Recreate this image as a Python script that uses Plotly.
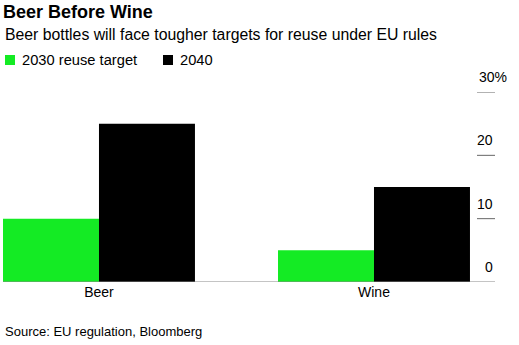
import plotly.graph_objects as go

# Reuse targets under the EU packaging rules (% of bottles)
categories = ["Beer", "Wine"]
target_2030 = [10, 5]
target_2040 = [25, 15]
series_names = ["2030 reuse target", "2040"]
series_colors = ["#14eb24", "#000000"]
y_ticks = [0, 10, 20, 30]
y_tick_labels = ["0", "10", "20", "30%"]

W, H = 519, 345
ML, MR, MT, MB = 3, 24, 92, 63
PW = W - ML - MR
PH = H - MT - MB
FONT = "Liberation Sans, Arial, sans-serif"


def px_x(px):
    return (px - ML) / PW


def px_y(py):
    return (H - MB - py) / PH


fig = go.Figure()
for name, vals, color in zip(series_names, [target_2030, target_2040], series_colors):
    fig.add_trace(go.Bar(x=categories, y=vals, name=name, marker_color=color,
                         marker_line_width=0, showlegend=False))

shapes = []
annotations = []

# right-hand value ticks: short rule with the label sitting above it
for v, lab in zip(y_ticks, y_tick_labels):
    if v != 0:
        shapes.append(dict(type="line", xref="paper", yref="y", x0=px_x(477), x1=1,
                           y0=v, y1=v, line=dict(color="#666666", width=1)))
    if lab.endswith("%"):
        ax, anchor = px_x(477), "left"
    else:
        ax, anchor = 1, "right"
    annotations.append(dict(xref="paper", yref="y", x=ax, y=v, text=lab,
                            xanchor=anchor, yanchor="bottom", yshift=5, showarrow=False,
                            font=dict(family=FONT, size=14, color="#000000")))

# baseline
shapes.append(dict(type="line", xref="paper", yref="y", x0=0, x1=1, y0=0, y1=0,
                   line=dict(color="#888888", width=1)))

# legend swatches and labels
for name, color, sx in zip(series_names, series_colors, [5, 163]):
    shapes.append(dict(type="rect", xref="paper", yref="paper",
                       x0=px_x(sx), x1=px_x(sx + 10), y0=px_y(65), y1=px_y(55),
                       fillcolor=color, line_width=0))
    annotations.append(dict(xref="paper", yref="paper", x=px_x(sx + 15), y=px_y(60),
                            text=name, xanchor="left", yanchor="middle", showarrow=False,
                            font=dict(family=FONT, size=14.7, color="#000000")))

annotations.append(dict(xref="paper", yref="paper", x=0, y=px_y(34.5),
                        text="Beer bottles will face tougher targets for reuse under EU rules",
                        xanchor="left", yanchor="middle", showarrow=False,
                        font=dict(family=FONT, size=15.8, color="#000000")))
annotations.append(dict(xref="paper", yref="paper", x=0, y=px_y(331),
                        text="Source: EU regulation, Bloomberg",
                        xanchor="left", yanchor="middle", showarrow=False,
                        font=dict(family=FONT, size=13, color="#000000")))

fig.update_layout(
    width=W, height=H,
    margin=dict(l=ML, r=MR, t=MT, b=MB, pad=0),
    paper_bgcolor="white", plot_bgcolor="white",
    barmode="group", bargap=0.302, bargroupgap=0,
    title=dict(text="<b>Beer Before Wine</b>", xref="container", yref="container",
               x=3 / W, xanchor="left", y=1 - 12 / H, yanchor="middle",
               font=dict(family=FONT, size=18, color="#000000")),
    xaxis=dict(range=[-0.349, 1.44], showgrid=False, showline=False, zeroline=False,
               ticks="", tickfont=dict(family=FONT, size=14, color="#000000"),
               fixedrange=True),
    yaxis=dict(range=[0, 30], showgrid=False, zeroline=False, showline=False,
               showticklabels=False, ticks="", fixedrange=True),
    shapes=shapes,
    annotations=annotations,
    showlegend=False,
)

fig.write_html("out.html")
